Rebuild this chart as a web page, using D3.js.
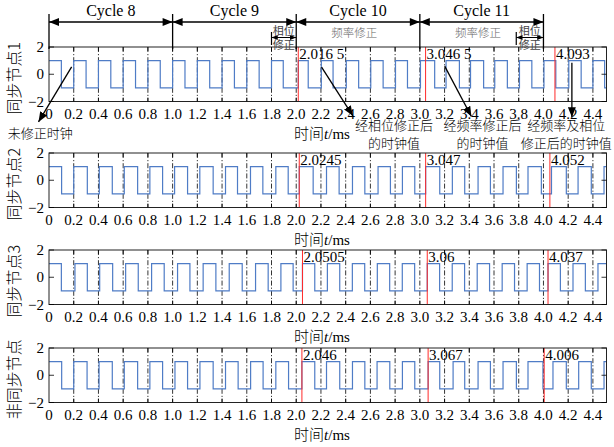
<!DOCTYPE html>
<html>
<head>
<meta charset="utf-8">
<script src="https://cdn.jsdelivr.net/npm/d3@7"></script>
<style>
  body { margin: 0; background: #fff; }
  svg { display: block; }
</style>
</head>
<body>
<svg id="chart"></svg>
<script>
// x tick values (ms)
const xTicks = [0, 0.2, 0.4, 0.6, 0.8, 1.0, 1.2, 1.4, 1.6, 1.8, 2.0, 2.2, 2.4, 2.6, 2.8, 3.0, 3.2, 3.4, 3.6, 3.8, 4.0, 4.2, 4.4];
const yTicks = [-2, 0, 2];

const panelLabels = ["同步节点1", "同步节点2", "同步节点3", "非同步节点"];

// clock edges (ms): each wave starts high (+1) at t = 0 and toggles at every edge
const node1Edges = [0.1, 0.2, 0.3, 0.4, 0.5, 0.6, 0.7, 0.8, 0.9, 1.0, 1.1, 1.2, 1.3, 1.4, 1.5, 1.6, 1.7, 1.8, 1.895, 2.0165,
  2.097, 2.203, 2.298, 2.405, 2.505, 2.603, 2.703, 2.803, 2.9, 3.005, 3.12, 3.212, 3.32, 3.41, 3.516, 3.606, 3.708, 3.806,
  3.906, 4.004, 4.1, 4.205, 4.305, 4.4, 4.495];
const node2Edges = [0.102, 0.2, 0.31, 0.407, 0.512, 0.609, 0.717, 0.816, 0.919, 1.016, 1.121, 1.22, 1.328, 1.428, 1.525, 1.63,
  1.73, 1.835, 1.935, 2.0245, 2.137, 2.245, 2.347, 2.455, 2.555, 2.662, 2.762, 2.859, 2.959, 3.047, 3.161, 3.263, 3.363,
  3.471, 3.571, 3.673, 3.781, 3.875, 3.983, 4.065, 4.185, 4.28, 4.387, 4.49];
const node3Edges = [0.1, 0.21, 0.31, 0.41, 0.515, 0.62, 0.722, 0.83, 0.932, 1.04, 1.14, 1.247, 1.35, 1.458, 1.563, 1.671,
  1.773, 1.876, 1.975, 2.0505, 2.15, 2.252, 2.352, 2.454, 2.554, 2.656, 2.756, 2.858, 2.958, 3.06, 3.16, 3.262, 3.362,
  3.464, 3.564, 3.666, 3.766, 3.868, 3.968, 4.037, 4.137, 4.239, 4.339, 4.441];
const node4Edges = [0.1025, 0.2, 0.308, 0.405, 0.512, 0.609, 0.717, 0.816, 0.919, 1.019, 1.121, 1.221, 1.328, 1.428, 1.53,
  1.631, 1.732, 1.835, 1.938, 2.046, 2.15, 2.245, 2.352, 2.455, 2.555, 2.654, 2.757, 2.859, 2.959, 3.067, 3.161, 3.269,
  3.363, 3.471, 3.571, 3.673, 3.781, 3.875, 3.996, 4.077, 4.185, 4.285, 4.387, 4.49];

// corrected clock values (red lines)
const node1Marks = [2.0165, 3.0465, 4.093];
const node2Marks = [2.0245, 3.047, 4.052];
const node3Marks = [2.0505, 3.06, 4.037];
const node4Marks = [2.046, 3.067, 4.006];
const node1MarkText = ["2.016 5", "3.046 5", "4.093"];
const node2MarkText = ["2.0245", "3.047", "4.052"];
const node3MarkText = ["2.0505", "3.06", "4.037"];
const node4MarkText = ["2.046", "3.067", "4.006"];

// header: sync cycles and correction phases (ms)
const cycleNames = ["Cycle 8", "Cycle 9", "Cycle 10", "Cycle 11"];
const cycleStart = [0, 1, 2, 3];
const cycleEnd = [1, 2, 3, 4];
const freqCycles = [2, 3];          // cycles with 频率修正
const phaseStart = [1.8, 3.78];
const phaseEnd = [2.0, 4.0];

// annotations on node 1, in [t (ms), value] of the first panel
const noteLines = [["未修正时钟"], ["经相位修正后", "的时钟值"], ["经频率修正后", "的时钟值"], ["经频率及相位", "修正后的时钟值"]];
const noteFrom = [[0.183, 0.54], [2.205, 0.52], [3.201, 0.6], [4.23, 0.84]];
const noteTo = [[-0.085, -3.5], [2.458, -3.05], [3.417, -3.1], [4.23, -3.15]];
const noteAt = [[-0.07, -4.68], [2.79, -4.1], [3.506, -4.1], [4.185, -4.1]];

const panels = [
  { edges: node1Edges, marks: node1Marks, text: node1MarkText },
  { edges: node2Edges, marks: node2Marks, text: node2MarkText },
  { edges: node3Edges, marks: node3Marks, text: node3MarkText },
  { edges: node4Edges, marks: node4Marks, text: node4MarkText }
];

// chart dimensions
const width = 614;
const height = 447;
const marginLeft = 49;
const plotRight = 606.5;
const panelTops = [47, 153, 250, 348];
const panelHeight = 54.5;
const serif = "'Liberation Serif', 'Times New Roman', serif";
const cjk = "'Noto Sans CJK SC', sans-serif";

const x = d3.scaleLinear().domain([0, 4.51]).range([marginLeft, plotRight]);

const svg = d3.select("#chart")
  .attr("width", width)
  .attr("height", height)
  .attr("viewBox", [0, 0, width, height]);

svg.append("rect").attr("width", width).attr("height", height).attr("fill", "#fff");

// arrow heads
const defs = svg.append("defs");
defs.append("marker")
  .attr("id", "bigHead")
  .attr("viewBox", "0 0 10 8")
  .attr("refX", 10).attr("refY", 4)
  .attr("markerWidth", 11).attr("markerHeight", 8)
  .attr("markerUnits", "userSpaceOnUse")
  .attr("orient", "auto-start-reverse")
  .append("path").attr("d", "M0,0L10,4L0,8Z").attr("fill", "#000");
defs.append("marker")
  .attr("id", "smallHead")
  .attr("viewBox", "0 0 10 8")
  .attr("refX", 10).attr("refY", 4)
  .attr("markerWidth", 7).attr("markerHeight", 5)
  .attr("markerUnits", "userSpaceOnUse")
  .attr("orient", "auto-start-reverse")
  .append("path").attr("d", "M0,0L10,4L0,8Z").attr("fill", "#000");
defs.append("marker")
  .attr("id", "noteHead")
  .attr("viewBox", "0 0 10 8")
  .attr("refX", 10).attr("refY", 4)
  .attr("markerWidth", 10).attr("markerHeight", 8)
  .attr("markerUnits", "userSpaceOnUse")
  .attr("orient", "auto")
  .append("path").attr("d", "M0,0L10,4L0,8Z").attr("fill", "#000");

// build step points from the toggle edges
function wavePoints(edges) {
  let v = 1;
  const pts = [[0, v]];
  edges.forEach(t => {
    pts.push([t, v]);
    v = -v;
    pts.push([t, v]);
  });
  pts.push([x.domain()[1], v]);
  return pts;
}

panels.forEach((p, i) => {
  const top = panelTops[i];
  const bottom = top + panelHeight;
  const y = d3.scaleLinear().domain([-2, 2]).range([bottom, top]);
  const g = svg.append("g");

  // dash-dot grid lines
  g.append("g")
    .selectAll("line")
    .data(xTicks.filter(d => d > 0))
    .join("line")
      .attr("x1", d => x(d)).attr("x2", d => x(d))
      .attr("y1", top).attr("y2", bottom)
      .attr("stroke", "#000")
      .attr("stroke-width", 0.8)
      .attr("stroke-dasharray", "5,2,1.2,2");

  // clock wave
  const line = d3.line().x(d => x(d[0])).y(d => y(d[1]));
  g.append("path")
    .attr("fill", "none")
    .attr("stroke", "#4f7cc6")
    .attr("stroke-width", 1.2)
    .attr("d", line(wavePoints(p.edges)));

  // red marks and their values
  g.append("g")
    .selectAll("line")
    .data(p.marks)
    .join("line")
      .attr("x1", d => x(d)).attr("x2", d => x(d))
      .attr("y1", top).attr("y2", bottom)
      .attr("stroke", "#ff2a2a")
      .attr("stroke-width", 1);
  g.append("g")
    .selectAll("text")
    .data(p.marks)
    .join("text")
      .attr("x", d => x(d) + 1)
      .attr("y", top + 12)
      .attr("font-family", serif)
      .attr("font-size", 15)
      .text((d, j) => p.text[j]);

  // box
  g.append("rect")
    .attr("x", marginLeft).attr("y", top)
    .attr("width", plotRight - marginLeft).attr("height", panelHeight)
    .attr("fill", "none").attr("stroke", "#222").attr("stroke-width", 1);

  // inward ticks
  g.append("g")
    .selectAll("path")
    .data(xTicks.filter(d => d > 0))
    .join("path")
      .attr("d", d => `M${x(d)},${bottom}v-4M${x(d)},${top}v4`)
      .attr("stroke", "#000").attr("stroke-width", 0.8);
  g.append("g")
    .selectAll("path")
    .data(yTicks)
    .join("path")
      .attr("d", d => `M${marginLeft},${y(d)}h5M${plotRight},${y(d)}h-5`)
      .attr("stroke", "#000").attr("stroke-width", 0.8);

  // tick labels
  g.append("g")
    .selectAll("text")
    .data(xTicks)
    .join("text")
      .attr("x", d => x(d))
      .attr("y", bottom + 17)
      .attr("text-anchor", "middle")
      .attr("font-family", serif)
      .attr("font-size", 15)
      .text(d => d === 0 ? "0" : d.toFixed(1));
  g.append("g")
    .selectAll("text")
    .data(yTicks)
    .join("text")
      .attr("x", 44)
      .attr("y", d => y(d) + 5)
      .attr("text-anchor", "end")
      .attr("font-family", serif)
      .attr("font-size", 15)
      .text(d => d < 0 ? "\u2212" + Math.abs(d) : d);

  // axis titles
  const xt = g.append("text")
    .attr("x", 322)
    .attr("y", bottom + 37)
    .attr("text-anchor", "middle")
    .attr("font-size", 15);
  xt.append("tspan").attr("font-family", cjk).attr("font-weight", 300).text("时间");
  xt.append("tspan").attr("font-family", serif).attr("font-style", "italic").text("t");
  xt.append("tspan").attr("font-family", serif).text("/ms");

  g.append("text")
    .attr("transform", `translate(20,${(top + bottom) / 2 + 4}) rotate(-90)`)
    .attr("text-anchor", "middle")
    .attr("font-family", cjk)
    .attr("font-weight", 300)
    .attr("font-size", 16)
    .text(panelLabels[i]);

  // annotations belong to the first panel
  if (i === 0) {
    noteFrom.forEach((f, k) => {
      g.append("line")
        .attr("x1", x(f[0])).attr("y1", y(f[1]))
        .attr("x2", x(noteTo[k][0])).attr("y2", y(noteTo[k][1]))
        .attr("stroke", "#000").attr("stroke-width", 1.3)
        .attr("marker-end", "url(#noteHead)");
      noteLines[k].forEach((s, m) => {
        g.append("text")
          .attr("x", x(noteAt[k][0]))
          .attr("y", y(noteAt[k][1]) + m * 18)
          .attr("text-anchor", "middle")
          .attr("font-family", cjk)
          .attr("font-weight", 300)
          .attr("font-size", 13)
          .text(s);
      });
    });
  }
});

// header: cycle arrows
const header = svg.append("g");
const arrowY = 22;
header.append("g")
  .selectAll("line")
  .data([0, 1, 2, 3, 4])
  .join("line")
    .attr("x1", d => x(d)).attr("x2", d => x(d))
    .attr("y1", 14).attr("y2", 49)
    .attr("stroke", "#000").attr("stroke-width", 1.3);
header.append("g")
  .selectAll("line")
  .data(cycleNames)
  .join("line")
    .attr("x1", (d, i) => x(cycleStart[i])).attr("x2", (d, i) => x(cycleEnd[i]))
    .attr("y1", arrowY).attr("y2", arrowY)
    .attr("stroke", "#000").attr("stroke-width", 1.5)
    .attr("marker-start", "url(#bigHead)")
    .attr("marker-end", "url(#bigHead)");
header.append("g")
  .selectAll("text")
  .data(cycleNames)
  .join("text")
    .attr("x", (d, i) => x((cycleStart[i] + cycleEnd[i]) / 2))
    .attr("y", 16)
    .attr("text-anchor", "middle")
    .attr("font-family", serif)
    .attr("font-size", 16)
    .text(d => d);
header.append("g")
  .selectAll("text")
  .data(freqCycles)
  .join("text")
    .attr("x", d => x(cycleStart[d] + 0.47))
    .attr("y", 37)
    .attr("text-anchor", "middle")
    .attr("font-family", cjk)
    .attr("font-weight", 300)
    .attr("font-size", 11.5)
    .attr("fill", "#666")
    .text("频率修正");

// header: phase correction brackets
phaseStart.forEach((s, i) => {
  const mid = x((s + phaseEnd[i]) / 2);
  header.append("line")
    .attr("x1", x(s)).attr("x2", x(s))
    .attr("y1", 32).attr("y2", 45)
    .attr("stroke", "#000").attr("stroke-width", 1.2);
  header.append("line")
    .attr("x1", x(s)).attr("x2", x(phaseEnd[i]))
    .attr("y1", 37.5).attr("y2", 37.5)
    .attr("stroke", "#000").attr("stroke-width", 1)
    .attr("marker-start", "url(#smallHead)")
    .attr("marker-end", "url(#smallHead)");
  header.append("text")
    .attr("x", mid).attr("y", 35)
    .attr("text-anchor", "middle")
    .attr("font-family", cjk).attr("font-size", 11)
    .attr("fill", "#444")
    .text("相位");
  header.append("text")
    .attr("x", mid).attr("y", 49)
    .attr("text-anchor", "middle")
    .attr("font-family", cjk).attr("font-size", 11)
    .attr("fill", "#444")
    .text("修正");
});
</script>
</body>
</html>
